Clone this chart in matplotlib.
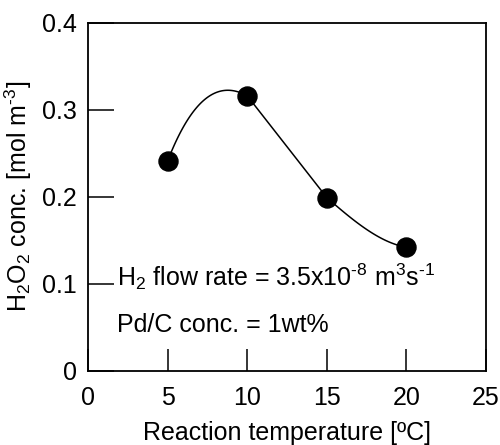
import numpy as np
import matplotlib
matplotlib.use("Agg")
import matplotlib.pyplot as plt

plt.rcParams['font.family'] = ['Liberation Sans', 'DejaVu Sans']
plt.rcParams['mathtext.fontset'] = 'custom'
plt.rcParams['mathtext.rm'] = 'Liberation Sans'
plt.rcParams['mathtext.default'] = 'regular'

# data
temperature = [5, 10, 15, 20]
h2o2_conc = [0.241, 0.316, 0.199, 0.142]
# slopes of the drawn guide curve at each end of each segment
slope_out = [0.047, -0.0234, -0.016]
slope_in = [-0.010, -0.0234, -0.003]
x_ticks = [0, 5, 10, 15, 20, 25]
y_ticks = [0, 0.1, 0.2, 0.3, 0.4]
y_tick_labels = ['0', '0.1', '0.2', '0.3', '0.4']


def hermite(x0, x1, y0, y1, m0, m1, n=60):
    h = x1 - x0
    t = np.linspace(0, 1, n)
    h00 = 2 * t**3 - 3 * t**2 + 1
    h10 = t**3 - 2 * t**2 + t
    h01 = -2 * t**3 + 3 * t**2
    h11 = t**3 - t**2
    return x0 + h * t, h00 * y0 + h10 * h * m0 + h01 * y1 + h11 * h * m1


fig = plt.figure(figsize=(5, 4.45), dpi=100)
ax = fig.add_axes([0.176, 0.167, 0.796, 0.782])

# smooth guide curve through the points
for i in range(len(temperature) - 1):
    xs, ys = hermite(temperature[i], temperature[i + 1], h2o2_conc[i], h2o2_conc[i + 1],
                     slope_out[i], slope_in[i])
    ax.plot(xs, ys, color='black', lw=1.1, zorder=2)
ax.plot(temperature, h2o2_conc, 'o', color='black', ms=13.7, zorder=3)

ax.set_xlim(0, 25)
ax.set_ylim(0, 0.4)
ax.set_xticks(x_ticks)
ax.set_yticks(y_ticks)
ax.set_yticklabels(y_tick_labels)
ax.tick_params(axis='both', direction='in', labelsize=18, width=1.1, color='black')
ax.tick_params(axis='x', length=16, pad=11)
ax.tick_params(axis='y', length=18.5, pad=8)
for sp in ax.spines.values():
    sp.set_linewidth(1.3)

ax.set_xlabel('Reaction temperature [ºC]', fontsize=18, labelpad=8)
ax.set_ylabel(r'H$_2$O$_2$ conc. [mol m$^{\text{-}3}$]', fontsize=18, labelpad=6)

ax.text(1.85, 0.108, r'H$_2$ flow rate = 3.5x10$^{\text{-}8}$ m$^3$s$^{\text{-}1}$', fontsize=18, va='center')
ax.text(1.85, 0.0525, 'Pd/C conc. = 1wt%', fontsize=18, va='center')

fig.savefig('out.png', dpi=100)
